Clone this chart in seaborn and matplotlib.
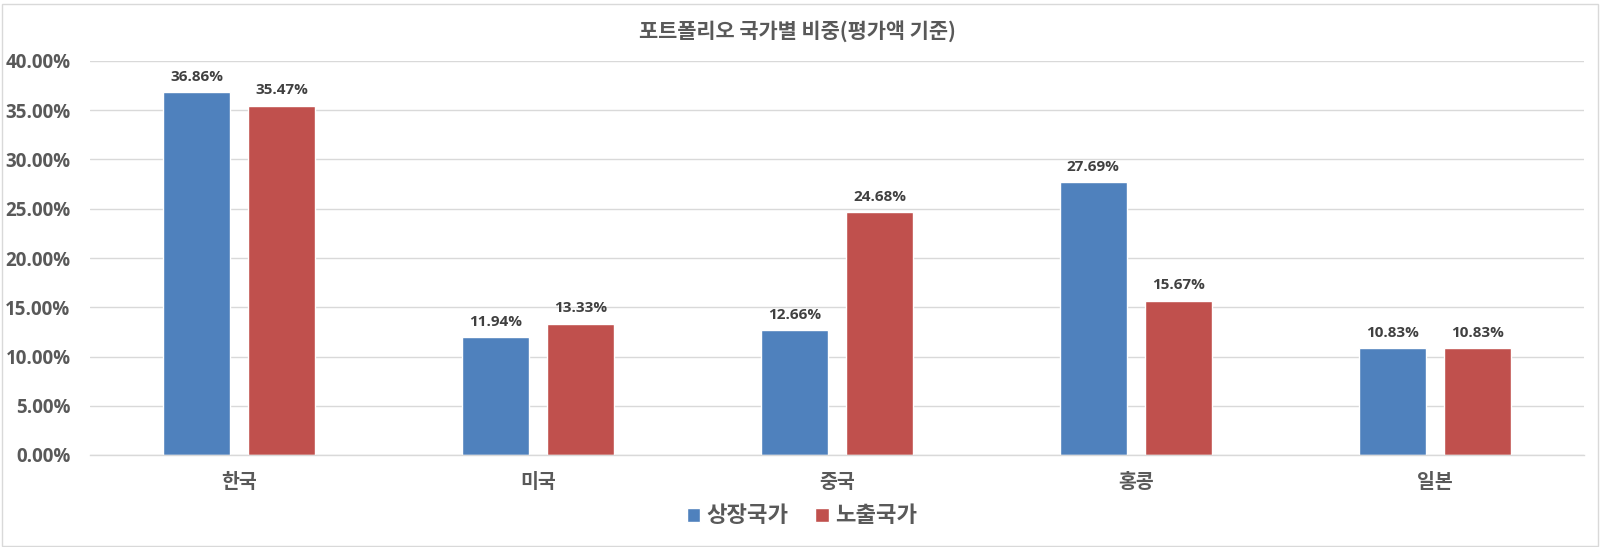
import matplotlib
matplotlib.use("Agg")
import matplotlib.pyplot as plt
from matplotlib.patches import Rectangle
from matplotlib.ticker import FuncFormatter
import seaborn as sns
import pandas as pd

categories = ["한국", "미국", "중국", "홍콩", "일본"]
series_names = ["상장국가", "노출국가"]
listed = [36.86, 11.94, 12.66, 27.69, 10.83]
exposure = [35.47, 13.33, 24.68, 15.67, 10.83]
title = "포트폴리오 국가별 비중(평가액 기준)"
colors = ["#4F81BD", "#C0504D"]

df = pd.DataFrame({
    "국가": categories * 2,
    "구분": [series_names[0]] * len(categories) + [series_names[1]] * len(categories),
    "비중": listed + exposure,
})

sns.set_theme(style="white")
plt.rcParams["font.family"] = ["Noto Sans CJK KR", "DejaVu Sans"]
num_font = ["Open Sans", "Noto Sans CJK KR", "DejaVu Sans"]

fig = plt.figure(figsize=(16.01, 5.47), dpi=100)
ax = fig.add_axes([90 / 1601, 92 / 547, 1494 / 1601, 394 / 547])

sns.barplot(data=df, x="국가", y="비중", hue="구분", palette=colors,
            width=0.569, gap=0.213, ax=ax, saturation=1, legend=True)

ax.set_ylim(0, 40)
ax.set_xlim(-0.5, len(categories) - 0.5)
ax.set_yticks([0, 5, 10, 15, 20, 25, 30, 35, 40])
ax.yaxis.set_major_formatter(FuncFormatter(lambda v, p: f"{v:.2f}%"))
ax.grid(axis="y", color="#D9D9D9", linewidth=1)
ax.set_axisbelow(True)
for s in ["top", "right", "left"]:
    ax.spines[s].set_visible(False)
ax.spines["bottom"].set_color("#D9D9D9")
ax.spines["bottom"].set_linewidth(1)
ax.set_xlabel("")
ax.set_ylabel("")
ax.tick_params(axis="y", length=0, pad=14, labelsize=13.5, labelcolor="#595959")
ax.tick_params(axis="x", length=0, pad=13, labelsize=14, labelcolor="#595959")
for lbl in ax.get_yticklabels():
    lbl.set_fontweight("bold")
    lbl.set_family(num_font)
for lbl in ax.get_xticklabels():
    lbl.set_fontweight("bold")

for cont in ax.containers:
    ax.bar_label(cont, fmt="%.2f%%", padding=6, fontsize=11,
                 fontweight="bold", color="#404040", family=num_font)

handles, labels = ax.get_legend_handles_labels()
ax.legend_.remove()
leg = fig.legend(handles, labels, loc="center", bbox_to_anchor=(802 / 1601, 1 - 516 / 547),
                 ncol=2, frameon=False, handlelength=0.6, handleheight=0.6,
                 handletextpad=0.3, columnspacing=1.2,
                 prop={"size": 16, "weight": "bold"})
for t in leg.get_texts():
    t.set_color("#595959")

fig.text(797 / 1601, 1 - 31 / 547, title, ha="center", va="center",
         fontsize=15, fontweight="bold", color="#595959")

fig.patches.append(Rectangle((2 / 1601, 1.5 / 547), 1596 / 1601, 542 / 547,
                             transform=fig.transFigure, fill=False,
                             edgecolor="#D9D9D9", linewidth=1))

fig.savefig("out.png", dpi=100, facecolor="white")
